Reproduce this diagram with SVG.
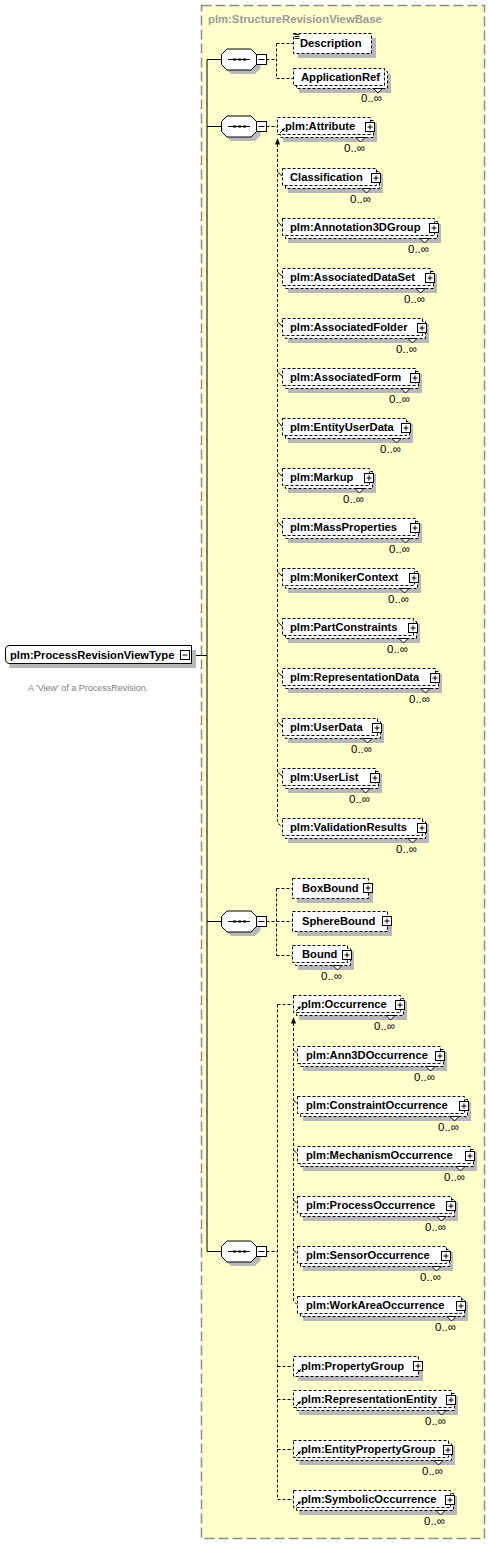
<svg xmlns="http://www.w3.org/2000/svg" xmlns:xlink="http://www.w3.org/1999/xlink" width="490" height="1544" viewBox="0 0 490 1544">
<style>
.bg{fill:#FFFFCC;stroke:#8c8c8c;stroke-width:1.5;stroke-dasharray:10 4}
.sh{fill:#b8b8b8;stroke:none}
.bx{fill:#fff;stroke:#000;stroke-width:1;stroke-dasharray:3 2}
.sb{fill:#fff;stroke:#000;stroke-width:1}
.nt{fill:#fff;stroke:#000;stroke-width:1}
.ic{fill:#fff;stroke:#000;stroke-width:1}
.ln{fill:none;stroke:#000;stroke-width:1}
.dl{fill:none;stroke:#000;stroke-width:1;stroke-dasharray:3 2}
.ah{fill:#000;stroke:none}
.t{font-family:"Liberation Sans",Arial,sans-serif;font-weight:bold;font-size:11.2px;fill:#000}
.o{font-family:"Liberation Sans",Arial,sans-serif;font-size:11.5px;fill:#000}
.ti{font-family:"Liberation Sans",Arial,sans-serif;font-weight:bold;font-size:11.3px;fill:#9a9a9a}
.d{font-family:"Liberation Sans",Arial,sans-serif;font-size:9px;fill:#808080}
</style>
<defs>
<g id="seq">
<polygon class="sh" points="231,-6.5 255,-6.5 260.5,-1 260.5,9 255,14.5 231,14.5 225.5,9 225.5,-1"/>
<polygon class="sb" points="227,-10.5 251,-10.5 256.5,-5 256.5,5 251,10.5 227,10.5 221.5,5 221.5,-5"/>
<path class="ln" d="M228 0H250"/>
<rect x="233" y="-1" width="3" height="2" fill="#000"/>
<rect x="238" y="-1" width="3" height="2" fill="#000"/>
<rect x="243" y="-1" width="3" height="2" fill="#000"/>
<rect class="ic" x="256.5" y="-5" width="10" height="10"/>
<path class="ln" d="M258.5 0H264.5"/>
</g>
<g id="ref">
<path class="ln" d="M3 16L6.5 12.5"/>
<polygon class="ah" points="8,11 4.4,12.2 6.8,14.6"/>
</g>
</defs>

<rect class="bg" x="201.5" y="5.5" width="283" height="1533"/>
<text class="ti" x="208" y="23">plm:StructureRevisionViewBase</text>

<g id="connectors">
<path class="ln" d="M191.5 655.5H207M207 59.5V1251.5M207 59.5H222M207 126.5H222M207 921.5H222M207 1251.5H222"/>
<path class="dl" d="M266.5 59.5H276.5M276.5 43.5V78.5M276.5 43.5H293M276.5 78.5H293"/>
<path class="dl" d="M266.5 126.5H277.5"/>
<path class="dl" d="M277.5 144V823L282 826.5"/>
<polygon class="ah" points="277.5,138 275,144.5 280,144.5"/>
<path class="ln" d="M277.5 172L282 176M277.5 222L282 226M277.5 272L282 276M277.5 322L282 326M277.5 372L282 376M277.5 422L282 426M277.5 472L282 476M277.5 522L282 526M277.5 572L282 576M277.5 622L282 626M277.5 672L282 676M277.5 722L282 726M277.5 772L282 776"/>
<path class="dl" d="M266.5 921.5H276.5M276.5 888.5V955.5M276.5 888.5H292M276.5 921.5H292M276.5 955.5H292"/>
<path class="dl" d="M266.5 1251.5H277.5M277.5 1004.5V1499.5M277.5 1004.5H293M277.5 1366.5H293M277.5 1399.5H293M277.5 1449.5H293M277.5 1499.5H293"/>
<path class="dl" d="M293.5 1023V1301L297 1304.5"/>
<polygon class="ah" points="293.5,1017 291,1023.5 296,1023.5"/>
<path class="ln" d="M293.5 1050L297 1053.5M293.5 1100L297 1103.5M293.5 1150L297 1153.5M293.5 1200L297 1203.5M293.5 1250L297 1253.5"/>
</g>

<g id="n-processrevisionviewtype">
<path class="sh" d="M13 650H196V668H9Q9.5 668 9.5 663V654Q9.5 650 13 650Z"/>
<path class="sb" d="M191.5 645.5H10Q5.5 645.5 5.5 650V659Q5.5 663.5 10 663.5H191.5Z"/>
<text class="t" x="10" y="659">plm:ProcessRevisionViewType</text>
<rect class="ic" x="180.5" y="650.5" width="9" height="9"/>
<path class="ln" d="M182.5 655H187.5"/>
<text class="d" x="28" y="691">A 'View' of a ProcessRevision.</text>
</g>

<g id="seq-1"><use xlink:href="#seq" transform="translate(0,59.5)"/></g>
<g id="seq-2"><use xlink:href="#seq" transform="translate(0,126.5)"/></g>
<g id="seq-3"><use xlink:href="#seq" transform="translate(0,921.5)"/></g>
<g id="seq-4"><use xlink:href="#seq" transform="translate(0,1251.5)"/></g>

<g id="n-description" transform="translate(293,33)">
<rect class="sh" x="5" y="5" width="78" height="20"/>
<rect class="bx" x="0.5" y="0.5" width="78" height="20"/>
<path class="ln" d="M1.5 1.5H6.5M1.5 3.5H6.5M1.5 5.5H6.5"/>
<text class="t" x="7" y="14">Description</text>
</g>
<g id="n-applicationref" transform="translate(293,68)">
<rect class="sh" x="6" y="6" width="92" height="19"/>
<rect class="bx" x="3.5" y="3.5" width="91" height="17"/>
<rect class="bx" x="0.5" y="0.5" width="91" height="17"/>
<polygon class="nt" points="80.5,20.5 85,25 89.5,20.5"/>
<text class="t" x="8" y="13">ApplicationRef</text>
<text class="o" x="89" y="34" text-anchor="end">0..∞</text>
</g>

<g id="n-attribute" transform="translate(277,117)">
<rect class="sh" x="6" y="6" width="94" height="19"/>
<rect class="bx" x="3.5" y="3.5" width="93" height="17"/>
<rect class="bx" x="0.5" y="0.5" width="93" height="17"/>
<polygon class="nt" points="79,20.5 83.5,25 88,20.5"/>
<use xlink:href="#ref"/>
<text class="t" x="8" y="13">plm:Attribute</text>
<rect class="ic" x="88.5" y="5.5" width="9" height="9"/><path class="ln" d="M90.5 10H95.5M93 7.5V12.5"/>
<text class="o" x="88" y="35" text-anchor="end">0..∞</text>
</g>

<g id="n-classification" transform="translate(282,168)">
<rect class="sh" x="6" y="6" width="95" height="19"/>
<rect class="bx" x="3.5" y="3.5" width="94" height="17"/>
<rect class="bx" x="0.5" y="0.5" width="94" height="17"/>
<polygon class="nt" points="80,20.5 84.5,25 89,20.5"/>
<text class="t" x="8" y="13">Classification</text>
<rect class="ic" x="89.5" y="5.5" width="9" height="9"/><path class="ln" d="M91.5 10H96.5M94 7.5V12.5"/>
<text class="o" x="89" y="35" text-anchor="end">0..∞</text>
</g>

<g id="n-annotation3dgroup" transform="translate(282,218)">
<rect class="sh" x="6" y="6" width="153" height="19"/>
<rect class="bx" x="3.5" y="3.5" width="152" height="17"/>
<rect class="bx" x="0.5" y="0.5" width="152" height="17"/>
<polygon class="nt" points="138,20.5 142.5,25 147,20.5"/>
<text class="t" x="8" y="13">plm:Annotation3DGroup</text>
<rect class="ic" x="147.5" y="5.5" width="9" height="9"/><path class="ln" d="M149.5 10H154.5M152 7.5V12.5"/>
<text class="o" x="147" y="35" text-anchor="end">0..∞</text>
</g>

<g id="n-associateddataset" transform="translate(282,268)">
<rect class="sh" x="6" y="6" width="149" height="19"/>
<rect class="bx" x="3.5" y="3.5" width="148" height="17"/>
<rect class="bx" x="0.5" y="0.5" width="148" height="17"/>
<polygon class="nt" points="134,20.5 138.5,25 143,20.5"/>
<text class="t" x="8" y="13">plm:AssociatedDataSet</text>
<rect class="ic" x="143.5" y="5.5" width="9" height="9"/><path class="ln" d="M145.5 10H150.5M148 7.5V12.5"/>
<text class="o" x="143" y="35" text-anchor="end">0..∞</text>
</g>

<g id="n-associatedfolder" transform="translate(282,318)">
<rect class="sh" x="6" y="6" width="141" height="19"/>
<rect class="bx" x="3.5" y="3.5" width="140" height="17"/>
<rect class="bx" x="0.5" y="0.5" width="140" height="17"/>
<polygon class="nt" points="126,20.5 130.5,25 135,20.5"/>
<text class="t" x="8" y="13">plm:AssociatedFolder</text>
<rect class="ic" x="135.5" y="5.5" width="9" height="9"/><path class="ln" d="M137.5 10H142.5M140 7.5V12.5"/>
<text class="o" x="135" y="35" text-anchor="end">0..∞</text>
</g>

<g id="n-associatedform" transform="translate(282,368)">
<rect class="sh" x="6" y="6" width="134" height="19"/>
<rect class="bx" x="3.5" y="3.5" width="133" height="17"/>
<rect class="bx" x="0.5" y="0.5" width="133" height="17"/>
<polygon class="nt" points="119,20.5 123.5,25 128,20.5"/>
<text class="t" x="8" y="13">plm:AssociatedForm</text>
<rect class="ic" x="128.5" y="5.5" width="9" height="9"/><path class="ln" d="M130.5 10H135.5M133 7.5V12.5"/>
<text class="o" x="128" y="35" text-anchor="end">0..∞</text>
</g>

<g id="n-entityuserdata" transform="translate(282,418)">
<rect class="sh" x="6" y="6" width="125" height="19"/>
<rect class="bx" x="3.5" y="3.5" width="124" height="17"/>
<rect class="bx" x="0.5" y="0.5" width="124" height="17"/>
<polygon class="nt" points="110,20.5 114.5,25 119,20.5"/>
<text class="t" x="8" y="13">plm:EntityUserData</text>
<rect class="ic" x="119.5" y="5.5" width="9" height="9"/><path class="ln" d="M121.5 10H126.5M124 7.5V12.5"/>
<text class="o" x="119" y="35" text-anchor="end">0..∞</text>
</g>

<g id="n-markup" transform="translate(282,468)">
<rect class="sh" x="6" y="6" width="88" height="19"/>
<rect class="bx" x="3.5" y="3.5" width="87" height="17"/>
<rect class="bx" x="0.5" y="0.5" width="87" height="17"/>
<polygon class="nt" points="73,20.5 77.5,25 82,20.5"/>
<text class="t" x="8" y="13">plm:Markup</text>
<rect class="ic" x="82.5" y="5.5" width="9" height="9"/><path class="ln" d="M84.5 10H89.5M87 7.5V12.5"/>
<text class="o" x="82" y="35" text-anchor="end">0..∞</text>
</g>

<g id="n-massproperties" transform="translate(282,518)">
<rect class="sh" x="6" y="6" width="134" height="19"/>
<rect class="bx" x="3.5" y="3.5" width="133" height="17"/>
<rect class="bx" x="0.5" y="0.5" width="133" height="17"/>
<polygon class="nt" points="119,20.5 123.5,25 128,20.5"/>
<text class="t" x="8" y="13">plm:MassProperties</text>
<rect class="ic" x="128.5" y="5.5" width="9" height="9"/><path class="ln" d="M130.5 10H135.5M133 7.5V12.5"/>
<text class="o" x="128" y="35" text-anchor="end">0..∞</text>
</g>

<g id="n-monikercontext" transform="translate(282,568)">
<rect class="sh" x="6" y="6" width="133" height="19"/>
<rect class="bx" x="3.5" y="3.5" width="132" height="17"/>
<rect class="bx" x="0.5" y="0.5" width="132" height="17"/>
<polygon class="nt" points="118,20.5 122.5,25 127,20.5"/>
<text class="t" x="8" y="13">plm:MonikerContext</text>
<rect class="ic" x="127.5" y="5.5" width="9" height="9"/><path class="ln" d="M129.5 10H134.5M132 7.5V12.5"/>
<text class="o" x="127" y="35" text-anchor="end">0..∞</text>
</g>

<g id="n-partconstraints" transform="translate(282,618)">
<rect class="sh" x="6" y="6" width="132" height="19"/>
<rect class="bx" x="3.5" y="3.5" width="131" height="17"/>
<rect class="bx" x="0.5" y="0.5" width="131" height="17"/>
<polygon class="nt" points="117,20.5 121.5,25 126,20.5"/>
<text class="t" x="8" y="13">plm:PartConstraints</text>
<rect class="ic" x="126.5" y="5.5" width="9" height="9"/><path class="ln" d="M128.5 10H133.5M131 7.5V12.5"/>
<text class="o" x="126" y="35" text-anchor="end">0..∞</text>
</g>

<g id="n-representationdata" transform="translate(282,668)">
<rect class="sh" x="6" y="6" width="154" height="19"/>
<rect class="bx" x="3.5" y="3.5" width="153" height="17"/>
<rect class="bx" x="0.5" y="0.5" width="153" height="17"/>
<polygon class="nt" points="139,20.5 143.5,25 148,20.5"/>
<text class="t" x="8" y="13">plm:RepresentationData</text>
<rect class="ic" x="148.5" y="5.5" width="9" height="9"/><path class="ln" d="M150.5 10H155.5M153 7.5V12.5"/>
<text class="o" x="148" y="35" text-anchor="end">0..∞</text>
</g>

<g id="n-userdata" transform="translate(282,718)">
<rect class="sh" x="6" y="6" width="96" height="19"/>
<rect class="bx" x="3.5" y="3.5" width="95" height="17"/>
<rect class="bx" x="0.5" y="0.5" width="95" height="17"/>
<polygon class="nt" points="81,20.5 85.5,25 90,20.5"/>
<text class="t" x="8" y="13">plm:UserData</text>
<rect class="ic" x="90.5" y="5.5" width="9" height="9"/><path class="ln" d="M92.5 10H97.5M95 7.5V12.5"/>
<text class="o" x="90" y="35" text-anchor="end">0..∞</text>
</g>

<g id="n-userlist" transform="translate(282,768)">
<rect class="sh" x="6" y="6" width="94" height="19"/>
<rect class="bx" x="3.5" y="3.5" width="93" height="17"/>
<rect class="bx" x="0.5" y="0.5" width="93" height="17"/>
<polygon class="nt" points="79,20.5 83.5,25 88,20.5"/>
<text class="t" x="8" y="13">plm:UserList</text>
<rect class="ic" x="88.5" y="5.5" width="9" height="9"/><path class="ln" d="M90.5 10H95.5M93 7.5V12.5"/>
<text class="o" x="88" y="35" text-anchor="end">0..∞</text>
</g>

<g id="n-validationresults" transform="translate(282,818)">
<rect class="sh" x="6" y="6" width="141" height="19"/>
<rect class="bx" x="3.5" y="3.5" width="140" height="17"/>
<rect class="bx" x="0.5" y="0.5" width="140" height="17"/>
<polygon class="nt" points="126,20.5 130.5,25 135,20.5"/>
<text class="t" x="8" y="13">plm:ValidationResults</text>
<rect class="ic" x="135.5" y="5.5" width="9" height="9"/><path class="ln" d="M137.5 10H142.5M140 7.5V12.5"/>
<text class="o" x="135" y="35" text-anchor="end">0..∞</text>
</g>

<g id="n-boxbound" transform="translate(292,878)">
<rect class="sh" x="5" y="5" width="76" height="20"/>
<rect class="bx" x="0.5" y="0.5" width="76" height="20"/>
<text class="t" x="10" y="14">BoxBound</text>
<rect class="ic" x="71.5" y="5.5" width="9" height="9"/><path class="ln" d="M73.5 10H78.5M76 7.5V12.5"/>
</g>

<g id="n-spherebound" transform="translate(292,911)">
<rect class="sh" x="5" y="5" width="95" height="20"/>
<rect class="bx" x="0.5" y="0.5" width="95" height="20"/>
<text class="t" x="10" y="14">SphereBound</text>
<rect class="ic" x="90.5" y="5.5" width="9" height="9"/><path class="ln" d="M92.5 10H97.5M95 7.5V12.5"/>
</g>

<g id="n-bound" transform="translate(292,945)">
<rect class="sh" x="6" y="6" width="56" height="19"/>
<rect class="bx" x="3.5" y="3.5" width="55" height="17"/>
<rect class="bx" x="0.5" y="0.5" width="55" height="17"/>
<polygon class="nt" points="41,20.5 45.5,25 50,20.5"/>
<text class="t" x="10" y="13">Bound</text>
<rect class="ic" x="50.5" y="5.5" width="9" height="9"/><path class="ln" d="M52.5 10H57.5M55 7.5V12.5"/>
<text class="o" x="50" y="35" text-anchor="end">0..∞</text>
</g>

<g id="n-occurrence" transform="translate(293,995)">
<rect class="sh" x="6" y="6" width="108" height="19"/>
<rect class="bx" x="3.5" y="3.5" width="107" height="17"/>
<rect class="bx" x="0.5" y="0.5" width="107" height="17"/>
<polygon class="nt" points="93,20.5 97.5,25 102,20.5"/>
<use xlink:href="#ref"/>
<text class="t" x="8" y="13">plm:Occurrence</text>
<rect class="ic" x="102.5" y="5.5" width="9" height="9"/><path class="ln" d="M104.5 10H109.5M107 7.5V12.5"/>
<text class="o" x="102" y="35" text-anchor="end">0..∞</text>
</g>

<g id="n-ann3doccurrence" transform="translate(297,1046)">
<rect class="sh" x="6" y="6" width="144" height="19"/>
<rect class="bx" x="3.5" y="3.5" width="143" height="17"/>
<rect class="bx" x="0.5" y="0.5" width="143" height="17"/>
<polygon class="nt" points="129,20.5 133.5,25 138,20.5"/>
<text class="t" x="9" y="13">plm:Ann3DOccurrence</text>
<rect class="ic" x="138.5" y="5.5" width="9" height="9"/><path class="ln" d="M140.5 10H145.5M143 7.5V12.5"/>
<text class="o" x="138" y="35" text-anchor="end">0..∞</text>
</g>

<g id="n-constraintoccurrence" transform="translate(297,1096)">
<rect class="sh" x="6" y="6" width="168" height="19"/>
<rect class="bx" x="3.5" y="3.5" width="167" height="17"/>
<rect class="bx" x="0.5" y="0.5" width="167" height="17"/>
<polygon class="nt" points="153,20.5 157.5,25 162,20.5"/>
<text class="t" x="9" y="13">plm:ConstraintOccurrence</text>
<rect class="ic" x="162.5" y="5.5" width="9" height="9"/><path class="ln" d="M164.5 10H169.5M167 7.5V12.5"/>
<text class="o" x="162" y="35" text-anchor="end">0..∞</text>
</g>

<g id="n-mechanismoccurrence" transform="translate(297,1146)">
<rect class="sh" x="6" y="6" width="174" height="19"/>
<rect class="bx" x="3.5" y="3.5" width="173" height="17"/>
<rect class="bx" x="0.5" y="0.5" width="173" height="17"/>
<polygon class="nt" points="159,20.5 163.5,25 168,20.5"/>
<text class="t" x="9" y="13">plm:MechanismOccurrence</text>
<rect class="ic" x="168.5" y="5.5" width="9" height="9"/><path class="ln" d="M170.5 10H175.5M173 7.5V12.5"/>
<text class="o" x="168" y="35" text-anchor="end">0..∞</text>
</g>

<g id="n-processoccurrence" transform="translate(297,1196)">
<rect class="sh" x="6" y="6" width="155" height="19"/>
<rect class="bx" x="3.5" y="3.5" width="154" height="17"/>
<rect class="bx" x="0.5" y="0.5" width="154" height="17"/>
<polygon class="nt" points="140,20.5 144.5,25 149,20.5"/>
<text class="t" x="9" y="13">plm:ProcessOccurrence</text>
<rect class="ic" x="149.5" y="5.5" width="9" height="9"/><path class="ln" d="M151.5 10H156.5M154 7.5V12.5"/>
<text class="o" x="149" y="35" text-anchor="end">0..∞</text>
</g>

<g id="n-sensoroccurrence" transform="translate(297,1246)">
<rect class="sh" x="6" y="6" width="150" height="19"/>
<rect class="bx" x="3.5" y="3.5" width="149" height="17"/>
<rect class="bx" x="0.5" y="0.5" width="149" height="17"/>
<polygon class="nt" points="135,20.5 139.5,25 144,20.5"/>
<text class="t" x="9" y="13">plm:SensorOccurrence</text>
<rect class="ic" x="144.5" y="5.5" width="9" height="9"/><path class="ln" d="M146.5 10H151.5M149 7.5V12.5"/>
<text class="o" x="144" y="35" text-anchor="end">0..∞</text>
</g>

<g id="n-workareaoccurrence" transform="translate(297,1296)">
<rect class="sh" x="6" y="6" width="165" height="19"/>
<rect class="bx" x="3.5" y="3.5" width="164" height="17"/>
<rect class="bx" x="0.5" y="0.5" width="164" height="17"/>
<polygon class="nt" points="150,20.5 154.5,25 159,20.5"/>
<text class="t" x="9" y="13">plm:WorkAreaOccurrence</text>
<rect class="ic" x="159.5" y="5.5" width="9" height="9"/><path class="ln" d="M161.5 10H166.5M164 7.5V12.5"/>
<text class="o" x="159" y="35" text-anchor="end">0..∞</text>
</g>

<g id="n-propertygroup" transform="translate(293,1356)">
<rect class="sh" x="5" y="5" width="125" height="20"/>
<rect class="bx" x="0.5" y="0.5" width="125" height="20"/>
<use xlink:href="#ref" transform="translate(0,2)"/>
<text class="t" x="8" y="14">plm:PropertyGroup</text>
<rect class="ic" x="120.5" y="5.5" width="9" height="9"/><path class="ln" d="M122.5 10H127.5M125 7.5V12.5"/>
</g>

<g id="n-representationentity" transform="translate(293,1390)">
<rect class="sh" x="6" y="6" width="159" height="19"/>
<rect class="bx" x="3.5" y="3.5" width="158" height="17"/>
<rect class="bx" x="0.5" y="0.5" width="158" height="17"/>
<polygon class="nt" points="144,20.5 148.5,25 153,20.5"/>
<use xlink:href="#ref"/>
<text class="t" x="8" y="13">plm:RepresentationEntity</text>
<rect class="ic" x="153.5" y="5.5" width="9" height="9"/><path class="ln" d="M155.5 10H160.5M158 7.5V12.5"/>
<text class="o" x="153" y="35" text-anchor="end">0..∞</text>
</g>

<g id="n-entitypropertygroup" transform="translate(293,1440)">
<rect class="sh" x="6" y="6" width="156" height="19"/>
<rect class="bx" x="3.5" y="3.5" width="155" height="17"/>
<rect class="bx" x="0.5" y="0.5" width="155" height="17"/>
<polygon class="nt" points="141,20.5 145.5,25 150,20.5"/>
<use xlink:href="#ref"/>
<text class="t" x="8" y="13">plm:EntityPropertyGroup</text>
<rect class="ic" x="150.5" y="5.5" width="9" height="9"/><path class="ln" d="M152.5 10H157.5M155 7.5V12.5"/>
<text class="o" x="150" y="35" text-anchor="end">0..∞</text>
</g>

<g id="n-symbolicoccurrence" transform="translate(293,1490)">
<rect class="sh" x="6" y="6" width="158" height="19"/>
<rect class="bx" x="3.5" y="3.5" width="157" height="17"/>
<rect class="bx" x="0.5" y="0.5" width="157" height="17"/>
<polygon class="nt" points="143,20.5 147.5,25 152,20.5"/>
<use xlink:href="#ref"/>
<text class="t" x="8" y="13">plm:SymbolicOccurrence</text>
<rect class="ic" x="152.5" y="5.5" width="9" height="9"/><path class="ln" d="M154.5 10H159.5M157 7.5V12.5"/>
<text class="o" x="152" y="35" text-anchor="end">0..∞</text>
</g>
</svg>
